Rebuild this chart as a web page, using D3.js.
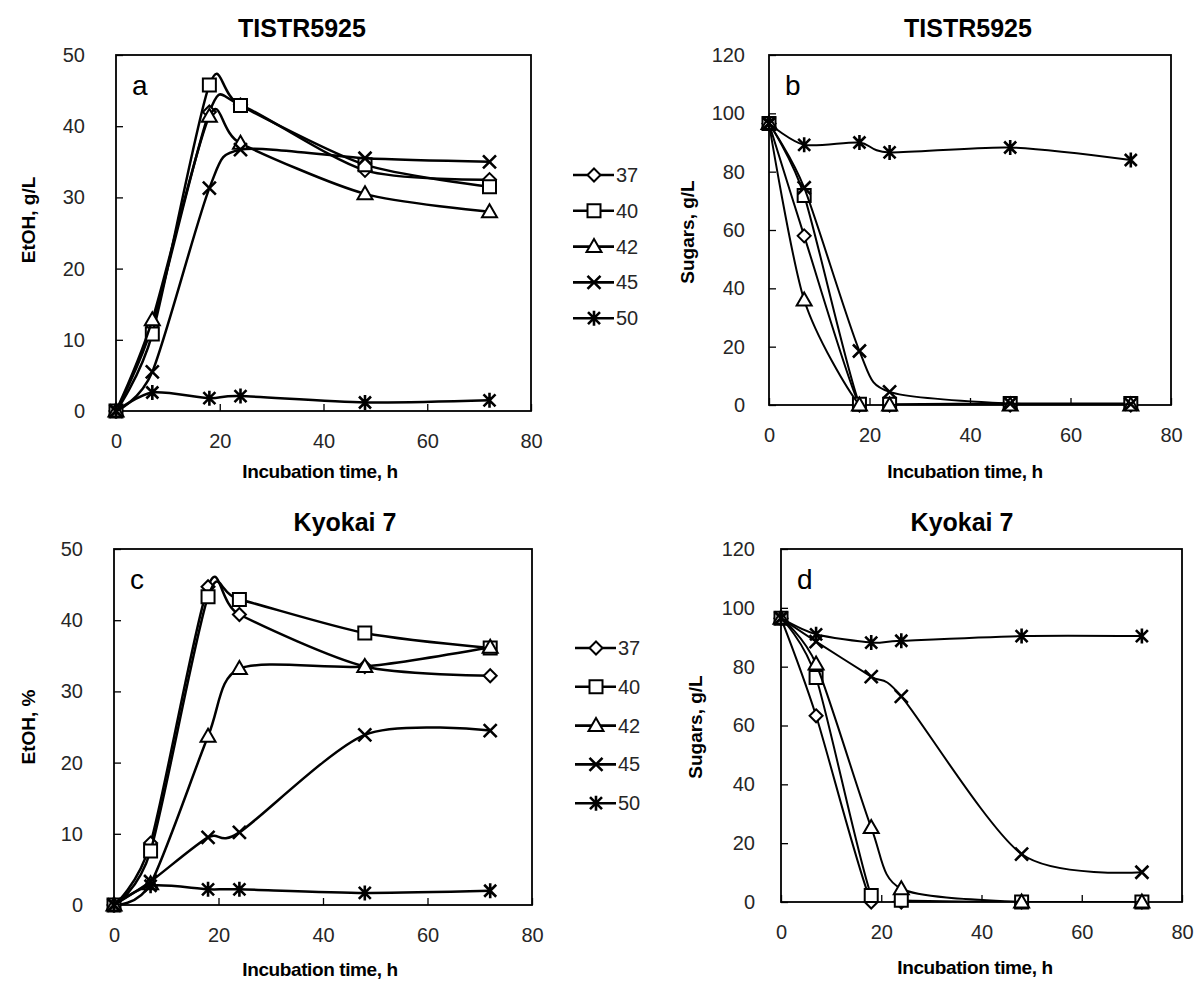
<!DOCTYPE html>
<html>
<head>
<meta charset="utf-8">
<script src="https://cdn.jsdelivr.net/npm/d3@7"></script>
<style>
  body { margin: 0; background: #fff; }
  text { font-family: "Liberation Sans", Arial, sans-serif; }
</style>
</head>
<body>
<div class="chart"></div>
<script>
var w = 1197;
var h = 983;

// sampling times (h) and temperature series
var times = [0, 7, 18, 24, 48, 72];
var temps = ["37", "40", "42", "45", "50"];
var xTicks = [0, 20, 40, 60, 80];
var etohTicks = [0, 10, 20, 30, 40, 50];
var sugarTicks = [0, 20, 40, 60, 80, 100, 120];

// a: TISTR5925 ethanol, g/L
var aEt37 = [0, 12, 42, 43, 33.8, 32.5];
var aEt40 = [0, 10.8, 45.8, 42.9, 34.6, 31.5];
var aEt42 = [0, 12.8, 41.4, 37.6, 30.5, 28];
var aEt45 = [0, 5.5, 31.3, 36.7, 35.5, 35];
var aEt50 = [0, 2.6, 1.8, 2.1, 1.2, 1.5];

// b: TISTR5925 sugars, g/L
var bSu37 = [96.5, 58, 0, 0, 0, 0];
var bSu40 = [96.5, 71.8, 0.3, 0.3, 0.5, 0.5];
var bSu42 = [96.5, 36, 0, 0, 0, 0];
var bSu45 = [96.5, 74.5, 18.5, 4.5, 0.5, 0.3];
var bSu50 = [96.5, 89.2, 90, 86.6, 88.3, 84];

// c: Kyokai 7 ethanol, %
var cEt37 = [0, 8.7, 44.7, 40.8, 33.5, 32.2];
var cEt40 = [0, 7.6, 43.3, 42.9, 38.2, 36.1];
var cEt42 = [0, 3, 23.7, 33.2, 33.5, 36.2];
var cEt45 = [0, 3.3, 9.5, 10.2, 23.9, 24.5];
var cEt50 = [0, 2.7, 2.2, 2.2, 1.7, 2];

// d: Kyokai 7 sugars, g/L
var dSu37 = [96.5, 63.3, 0, 0, 0, 0];
var dSu40 = [96.5, 76.3, 2.2, 0.6, 0, 0];
var dSu42 = [96.5, 80.9, 25.3, 4.5, 0, 0];
var dSu45 = [96.5, 88.5, 76.6, 69.9, 16.3, 10.1];
var dSu50 = [96.5, 91, 88.2, 88.8, 90.4, 90.4];

var markers = ["diamond", "square", "triangle", "x", "star"];

var svg = d3.select(".chart")
            .append("svg")
            .attr("width", w)
            .attr("height", h);

var panels = [
  {id: "a", left: 116, right: 531, top: 55, bottom: 411, ymax: 50, yt: etohTicks, pad: 31,
   title: "TISTR5925", tx: 302, ty: 37, ylab: "EtOH, g/L", ylx: 28, yly: 220,
   xlab: "Incubation time,  h", xlx: 320, xly: 478, lw: 2.5,
   series: [aEt37, aEt40, aEt42, aEt45, aEt50]},
  {id: "b", left: 769, right: 1171, top: 55, bottom: 405, ymax: 120, yt: sugarTicks, pad: 24,
   title: "TISTR5925", tx: 968, ty: 37, ylab: "Sugars, g/L", ylx: 687, yly: 232,
   xlab: "Incubation time, h", xlx: 965, xly: 478, lw: 2,
   series: [bSu37, bSu40, bSu42, bSu45, bSu50]},
  {id: "c", left: 114, right: 532, top: 549, bottom: 905, ymax: 50, yt: etohTicks, pad: 31,
   title: "Kyokai 7", tx: 345, ty: 531, ylab: "EtOH, %", ylx: 28, yly: 727,
   xlab: "Incubation time, h", xlx: 320, xly: 976, lw: 2.5,
   series: [cEt37, cEt40, cEt42, cEt45, cEt50]},
  {id: "d", left: 781, right: 1182, top: 549, bottom: 902, ymax: 120, yt: sugarTicks, pad: 26,
   title: "Kyokai 7", tx: 962, ty: 531, ylab: "Sugars, g/L", ylx: 695, yly: 727,
   xlab: "Incubation time, h", xlx: 975, xly: 974, lw: 2,
   series: [dSu37, dSu40, dSu42, dSu45, dSu50]}
];

function markerPath(type) {
  if (type == "diamond") return "M0,-6.5L6.5,0L0,6.5L-6.5,0Z";
  if (type == "square") return "M-6.5,-6.5H6.5V6.5H-6.5Z";
  if (type == "triangle") return "M0,-7.5L7.5,5.5H-7.5Z";
  if (type == "x") return "M-6.5,-6.5L6.5,6.5M-6.5,6.5L6.5,-6.5";
  return "M-6,-6L6,6M-6,6L6,-6M0,-7.5L0,7.5"; // star
}

function drawMarker(g, type, cx, cy) {
  var open = (type == "diamond" || type == "square" || type == "triangle");
  g.append("path")
    .attr("d", markerPath(type))
    .attr("transform", "translate(" + cx + "," + cy + ")")
    .attr("fill", open ? "#fff" : "none")
    .attr("stroke", "#000")
    .attr("stroke-width", open ? 2 : 2.6);
}

function drawPanel(p) {
  var g = svg.append("g").attr("class", "panel-" + p.id);
  var xScale = d3.scaleLinear().domain([0, 80]).range([p.left, p.right]);
  var yScale = d3.scaleLinear().domain([0, p.ymax]).range([p.bottom, p.top]);

  g.append("clipPath").attr("id", "clip-" + p.id)
    .append("rect")
    .attr("x", p.left).attr("y", p.top)
    .attr("width", p.right - p.left).attr("height", p.bottom - p.top);

  var xAxis = d3.axisBottom(xScale).tickValues(xTicks).tickSizeInner(-7).tickSizeOuter(0).tickPadding(23);
  var yAxis = d3.axisLeft(yScale).tickValues(p.yt).tickSizeInner(-7).tickSizeOuter(0).tickPadding(p.pad);

  g.append("g")
    .attr("transform", "translate(0," + p.bottom + ")")
    .call(xAxis)
    .call(function(a) {
      a.select(".domain").remove();
      a.selectAll("line").attr("stroke", "#000").attr("stroke-width", 1.3);
      a.selectAll("text").attr("fill", "#262626").style("font-size", "20px");
    });

  g.append("g")
    .attr("transform", "translate(" + p.left + ",0)")
    .call(yAxis)
    .call(function(a) {
      a.select(".domain").remove();
      a.selectAll("line").attr("stroke", "#000").attr("stroke-width", 1.3);
      a.selectAll("text").attr("fill", "#262626").style("font-size", "20px");
    });

  g.append("rect") // plot frame
    .attr("x", p.left).attr("y", p.top)
    .attr("width", p.right - p.left).attr("height", p.bottom - p.top)
    .attr("fill", "none").attr("stroke", "#000").attr("stroke-width", 1.8);

  var line = d3.line()
    .x(function(d, i) { return xScale(times[i]); })
    .y(function(d) { return yScale(d); })
    .curve(d3.curveCardinal.tension(0.2)); // smoothed like excel, a bit less overshoot

  p.series.forEach(function(vals, k) {
    g.append("path")
      .attr("d", line(vals))
      .attr("clip-path", "url(#clip-" + p.id + ")")
      .attr("fill", "none")
      .attr("stroke", "#000")
      .attr("stroke-width", p.lw);
    vals.forEach(function(v, i) {
      drawMarker(g, markers[k], xScale(times[i]), yScale(v));
    });
  });

  g.append("text") // panel letter
    .attr("x", p.left + 16).attr("y", p.top + 40)
    .style("font-size", "28px")
    .text(p.id);

  g.append("text")
    .attr("x", p.tx).attr("y", p.ty)
    .attr("text-anchor", "middle")
    .style("font-size", "25px").style("font-weight", "bold")
    .text(p.title);

  g.append("text")
    .attr("x", p.xlx).attr("y", p.xly)
    .attr("text-anchor", "middle")
    .style("font-size", "19px").style("font-weight", "bold")
    .style("letter-spacing", "-0.4px")
    .text(p.xlab);

  g.append("text")
    .attr("transform", "translate(" + p.ylx + "," + p.yly + ") rotate(-90)")
    .attr("text-anchor", "middle")
    .attr("dy", "0.35em")
    .style("font-size", "19px").style("font-weight", "bold")
    .text(p.ylab);
}

panels.forEach(drawPanel);

// legends between the columns
function drawLegend(x0, y0, step) {
  var lg = svg.append("g").attr("class", "legend");
  temps.forEach(function(t, k) {
    var yy = y0 + k * step;
    lg.append("line")
      .attr("x1", x0).attr("x2", x0 + 41)
      .attr("y1", yy).attr("y2", yy)
      .attr("stroke", "#000").attr("stroke-width", 2.6);
    drawMarker(lg, markers[k], x0 + 21, yy);
    lg.append("text")
      .attr("x", x0 + 43).attr("y", yy)
      .attr("dy", "0.35em")
      .attr("fill", "#262626")
      .style("font-size", "20px")
      .text(t);
  });
}
drawLegend(573, 175, 35.8);
drawLegend(575, 648, 38.8);
</script>
</body>
</html>
